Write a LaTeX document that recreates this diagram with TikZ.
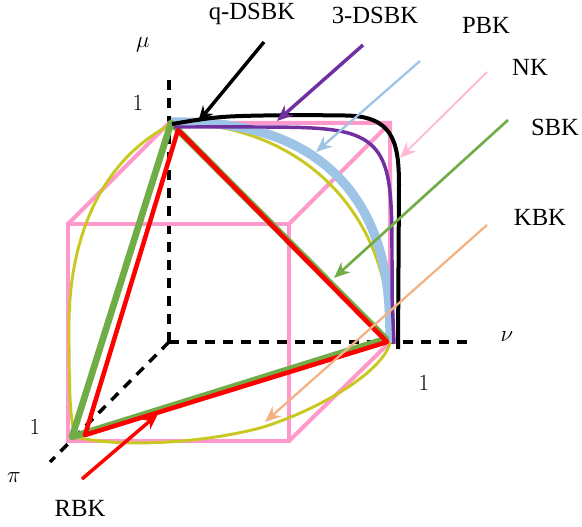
\documentclass[tikz,border=0pt]{standalone}
\usepackage{fontspec}
\setmainfont{Liberation Serif}
\usepackage{tikz}
\usetikzlibrary{arrows.meta}
\usepackage{xcolor}
\definecolor{KernelPink}{HTML}{FF99CC}
\definecolor{KernelRose}{HTML}{FFB8D6}
\definecolor{KernelBlue}{HTML}{9DC3E6}
\definecolor{KernelPurple}{HTML}{7030A0}
\definecolor{KernelGreen}{HTML}{70AD47}
\definecolor{KernelOrange}{HTML}{F4B183}
\definecolor{KernelYellow}{HTML}{C8C820}
\definecolor{KernelRed}{HTML}{FF0000}

\begin{document}
\begin{tikzpicture}[x=0.75pt,y=-0.75pt,>={Stealth[length=12pt,width=10pt]},
  font=\fontsize{18.5}{20}\selectfont,
  axis/.style={line width=2.6pt,dash pattern=on 7.5pt off 6pt},
  cube/.style={KernelPink,line width=3pt,line join=miter},
  pointer/.style={->,line width=#1},
  pointer/.default=1.7pt]
  \useasboundingbox (0,0) rectangle (582,527);
  % axes
  \coordinate (O) at (169,342);
  \coordinate (muEnd) at (169,72);
  \coordinate (nuEnd) at (470,342);
  \coordinate (piEnd) at (50,462);
  \draw[axis] (O)--(muEnd);
  \draw[axis] (O)--(nuEnd);
  \draw[axis] (O)--(piEnd);
  \node (muLabel) at (143,45) {$\mu$};
  \node (muOne) at (138,103) {$1$};
  \node (nuLabel) at (507,337) {$\nu$};
  \node (nuOne) at (424,383) {$1$};
  \node (piOne) at (35,427) {$1$};
  \node (piLabel) at (14,478) {$\pi$};
  % unit cube (NK)
  \coordinate (piC) at (68,441);
  \coordinate (piNu) at (289,441);
  \coordinate (piMuNu) at (289,224);
  \coordinate (piMu) at (68,224);
  \coordinate (muC) at (169,123);
  \coordinate (muNu) at (390,123);
  \coordinate (nuC) at (390,342);
  \draw[cube] (piC)--(piNu)--(piMuNu)--(piMu)--cycle;
  \draw[cube] (piMu)--(muC)--(muNu)--(nuC)--(piNu);
  \draw[cube] (piMuNu)--(muNu);
  % KBK
  \draw[KernelYellow,line width=2.2pt] (172,124)
    .. controls (100,160) and (68,240) .. (69,330)
    .. controls (69,390) and (70,425) .. (76,437)
    .. controls (110,446) and (190,446) .. (260,428)
    .. controls (320,410) and (385,370) .. (390,342);
  \draw[KernelYellow,line width=2.2pt] (390,342)
    -- plot[domain=0.5:89.5,samples=80]
    ({169+221*pow(cos(\x),2/2.15)},{342-219*pow(sin(\x),2/2.15)})
    -- (172,124);
  % PBK
  \draw[KernelBlue,line width=7pt] (391,342)
    -- plot[domain=0.5:89.5,samples=80]
    ({169+221*pow(cos(\x),0.8)},{342-220*pow(sin(\x),0.8)})
    -- (171,122);
  % SBK and RBK
  \draw[KernelGreen,line width=5pt,line join=round]
    (72,437)--(171,123)--(386,339)--cycle;
  \draw[KernelRed,line width=3.4pt,line join=round]
    (178,130)--(85,435)--(387,342)--cycle;
  % 3-DSBK
  \draw[KernelPurple,line width=2.6pt] (394,344)
    -- plot[domain=0.2:89.8,samples=120]
    ({169+223*pow(cos(\x),0.2667)},{342-215*pow(sin(\x),0.2667)})
    -- (174,127);
  % q-DSBK
  \draw[line width=3pt] (172,124) .. controls (220,116) .. (300,115)
    -- (345,115.5) .. controls (392,116) and (399,140) .. (399,185)
    -- (398,349);
  % labels and pointers
  \node (qLabel) at (252,14) {q-DSBK};
  \node (triLabel) at (375,15) {3-DSBK};
  \node (pLabel) at (486,25) {PBK};
  \node (nLabel) at (530,67) {NK};
  \node (sLabel) at (555,127) {SBK};
  \node (kLabel) at (540,217) {KBK};
  \node (rLabel) at (80,508) {RBK};
  \coordinate (qStart) at (264,42);   \coordinate (qTip) at (198,122);
  \coordinate (triStart) at (363,45); \coordinate (triTip) at (277,121);
  \coordinate (pStart) at (420,61);   \coordinate (pTip) at (316,152);
  \coordinate (nStart) at (487,72);   \coordinate (nTip) at (400,158);
  \coordinate (sStart) at (508,120);  \coordinate (sTip) at (334,278);
  \coordinate (kStart) at (487,225);  \coordinate (kTip) at (265,422);
  \coordinate (rStart) at (82,479);   \coordinate (rTip) at (158,414);
  \draw[pointer=2.6pt] (qStart)--(qTip);
  \draw[pointer=2.6pt,KernelPurple] (triStart)--(triTip);
  \draw[pointer,KernelBlue] (pStart)--(pTip);
  \draw[pointer=1.4pt,KernelRose] (nStart)--(nTip);
  \draw[pointer=2pt,KernelGreen] (sStart)--(sTip);
  \draw[pointer,KernelOrange] (kStart)--(kTip);
  \draw[pointer=2.6pt,KernelRed] (rStart)--(rTip);
\end{tikzpicture}
\end{document}
